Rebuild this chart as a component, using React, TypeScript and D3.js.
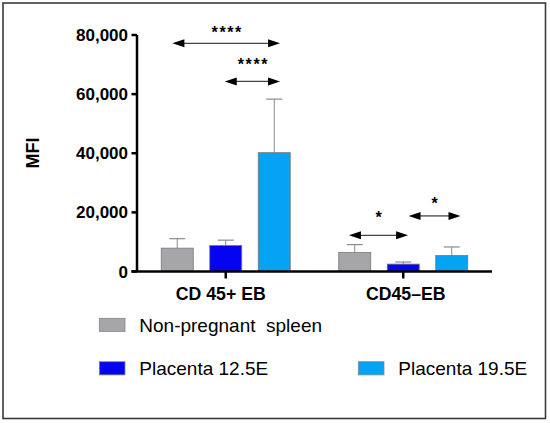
import React from 'react';
import * as d3 from 'd3';

const categories: string[] = ['CD 45+ EB', 'CD45–EB'];
const seriesNames: string[] = ['Non-pregnant  spleen', 'Placenta 12.5E', 'Placenta 19.5E'];
const seriesColors: string[] = ['#a6a6aa', '#0404f0', '#05a3f3'];

const greyMeans: number[] = [7900, 6400];
const greySD: number[] = [3200, 2700];
const blueMeans: number[] = [8800, 2500];
const blueSD: number[] = [1800, 700];
const lightMeans: number[] = [40200, 5400];
const lightSD: number[] = [18100, 2900];

const yTicks: number[] = [0, 20000, 40000, 60000, 80000];

// significance arrows: group, from/to as fractional series index, height, label
const sigLabels: string[] = ['****', '****', '*', '*'];
const sigGroup: number[] = [0, 0, 1, 1];
const sigFrom: number[] = [-0.1, 0.98, -0.12, 1.11];
const sigTo: number[] = [2.12, 2.12, 1.1, 2.18];
const sigValue: number[] = [77200, 64300, 12250, 18800];
const starValue: number[] = [81900, 71100, 19300, 24200];

const W = 550;
const H = 423;
const font = '"Liberation Sans", Arial, sans-serif';
// category label nudges (the labels are not quite centred on their ticks)
const labelNudge = [-5, 2.5];

const App = () => {
  const means = [greyMeans, blueMeans, lightMeans];
  const sds = [greySD, blueSD, lightSD];

  const y = d3.scaleLinear().domain([0, 80000]).range([271.5, 35]);
  const x0 = d3.scalePoint<string>().domain(categories).range([137, 492]).padding(0.5);
  const x1 = d3.scaleBand<string>()
    .domain(seriesNames)
    .range([-72.75, 72.75])
    .paddingInner(0.34)
    .paddingOuter(0.17);
  const step = x1.step();
  const bw = x1.bandwidth();
  const fmt = d3.format(',');

  // fractional series index -> pixel x
  const seriesX = (g: number, pos: number) =>
    (x0(categories[g]) as number) + (x1(seriesNames[0]) as number) + bw / 2 + pos * step;

  const head = 12;
  const hh = 4;

  return (
    <svg width={W} height={H} style={{position: 'fixed', left: 0, top: 0, background: '#fff'}}>
      <rect x={3} y={3} width={542.5} height={415.5} fill="#fff" stroke="#3a3a3a" strokeWidth={1.6}/>

      {/* bars + error bars */}
      {seriesNames.map((s, si) => categories.map((c, gi) => {
        const bx = (x0(c) as number) + (x1(s) as number);
        const top = y(means[si][gi]);
        const et = y(means[si][gi] + sds[si][gi]);
        const cx = bx + bw / 2;
        return (
          <g key={s + c}>
            <line x1={cx} x2={cx} y1={top} y2={et} stroke="#8a8a8a" strokeWidth={1}/>
            <line x1={cx - 8} x2={cx + 8} y1={et} y2={et} stroke="#8a8a8a" strokeWidth={1.2}/>
            <rect x={bx} y={top} width={bw} height={y(0) - top} fill={seriesColors[si]}
                  stroke="#777" strokeWidth={0.8}/>
          </g>
        );
      }))}

      {/* y axis */}
      <line x1={137} x2={137} y1={y(80000)} y2={y(0)} stroke="#000" strokeWidth={2.5}/>
      {yTicks.map(t => (
        <g key={t}>
          <line x1={131.5} x2={137} y1={y(t)} y2={y(t)} stroke="#000" strokeWidth={2.5}/>
          <text x={128} y={y(t) + 6} textAnchor="end" fontFamily={font} fontWeight="bold"
                fontSize={17}>{fmt(t)}</text>
        </g>
      ))}
      <text transform={`translate(38.5,153) rotate(-90)`} textAnchor="middle" fontFamily={font}
            fontWeight="bold" fontSize={18}>MFI</text>

      {/* x axis */}
      <line x1={131.5} x2={492} y1={y(0)} y2={y(0)} stroke="#000" strokeWidth={2.5}/>
      {categories.map((c, i) => (
        <g key={c}>
          <line x1={x0(c)} x2={x0(c)} y1={y(0)} y2={y(0) + 7} stroke="#000" strokeWidth={2.5}/>
          <text x={(x0(c) as number) + labelNudge[i]} y={299.5} textAnchor="middle" fontFamily={font}
                fontWeight="bold" fontSize={17.7}>{c}</text>
        </g>
      ))}

      {/* significance arrows */}
      {sigLabels.map((lab, i) => {
        const a = seriesX(sigGroup[i], sigFrom[i]);
        const b = seriesX(sigGroup[i], sigTo[i]);
        const yy = y(sigValue[i]);
        const ys = y(starValue[i]);
        return (
          <g key={i}>
            <line x1={a + head - 1} x2={b - head + 1} y1={yy} y2={yy} stroke="#444" strokeWidth={1.3}/>
            <path d={`M${a},${yy}L${a + head},${yy - hh}L${a + head},${yy + hh}Z`} fill="#000"/>
            <path d={`M${b},${yy}L${b - head},${yy - hh}L${b - head},${yy + hh}Z`} fill="#000"/>
            <text x={(a + b) / 2 + 1} y={ys + 9} textAnchor="middle" fontFamily={font}
                  fontWeight="bold" fontSize={16} letterSpacing={1.6}>{lab}</text>
          </g>
        );
      })}

      {/* legend */}
      {seriesNames.map((s, i) => {
        const lx = i === 2 ? 358.3 : 99.3;
        const ly = i === 0 ? 318.3 : 361.7;
        return (
          <g key={s}>
            <rect x={lx} y={ly} width={25.7} height={13.2} fill={seriesColors[i]} stroke="#888"
                  strokeWidth={0.8}/>
            <text x={lx + 40} y={ly + 13.4} fontFamily={font} fontSize={19}
                  style={{whiteSpace: 'pre'}}>{s}</text>
          </g>
        );
      })}
    </svg>
  );
};

export default App;
